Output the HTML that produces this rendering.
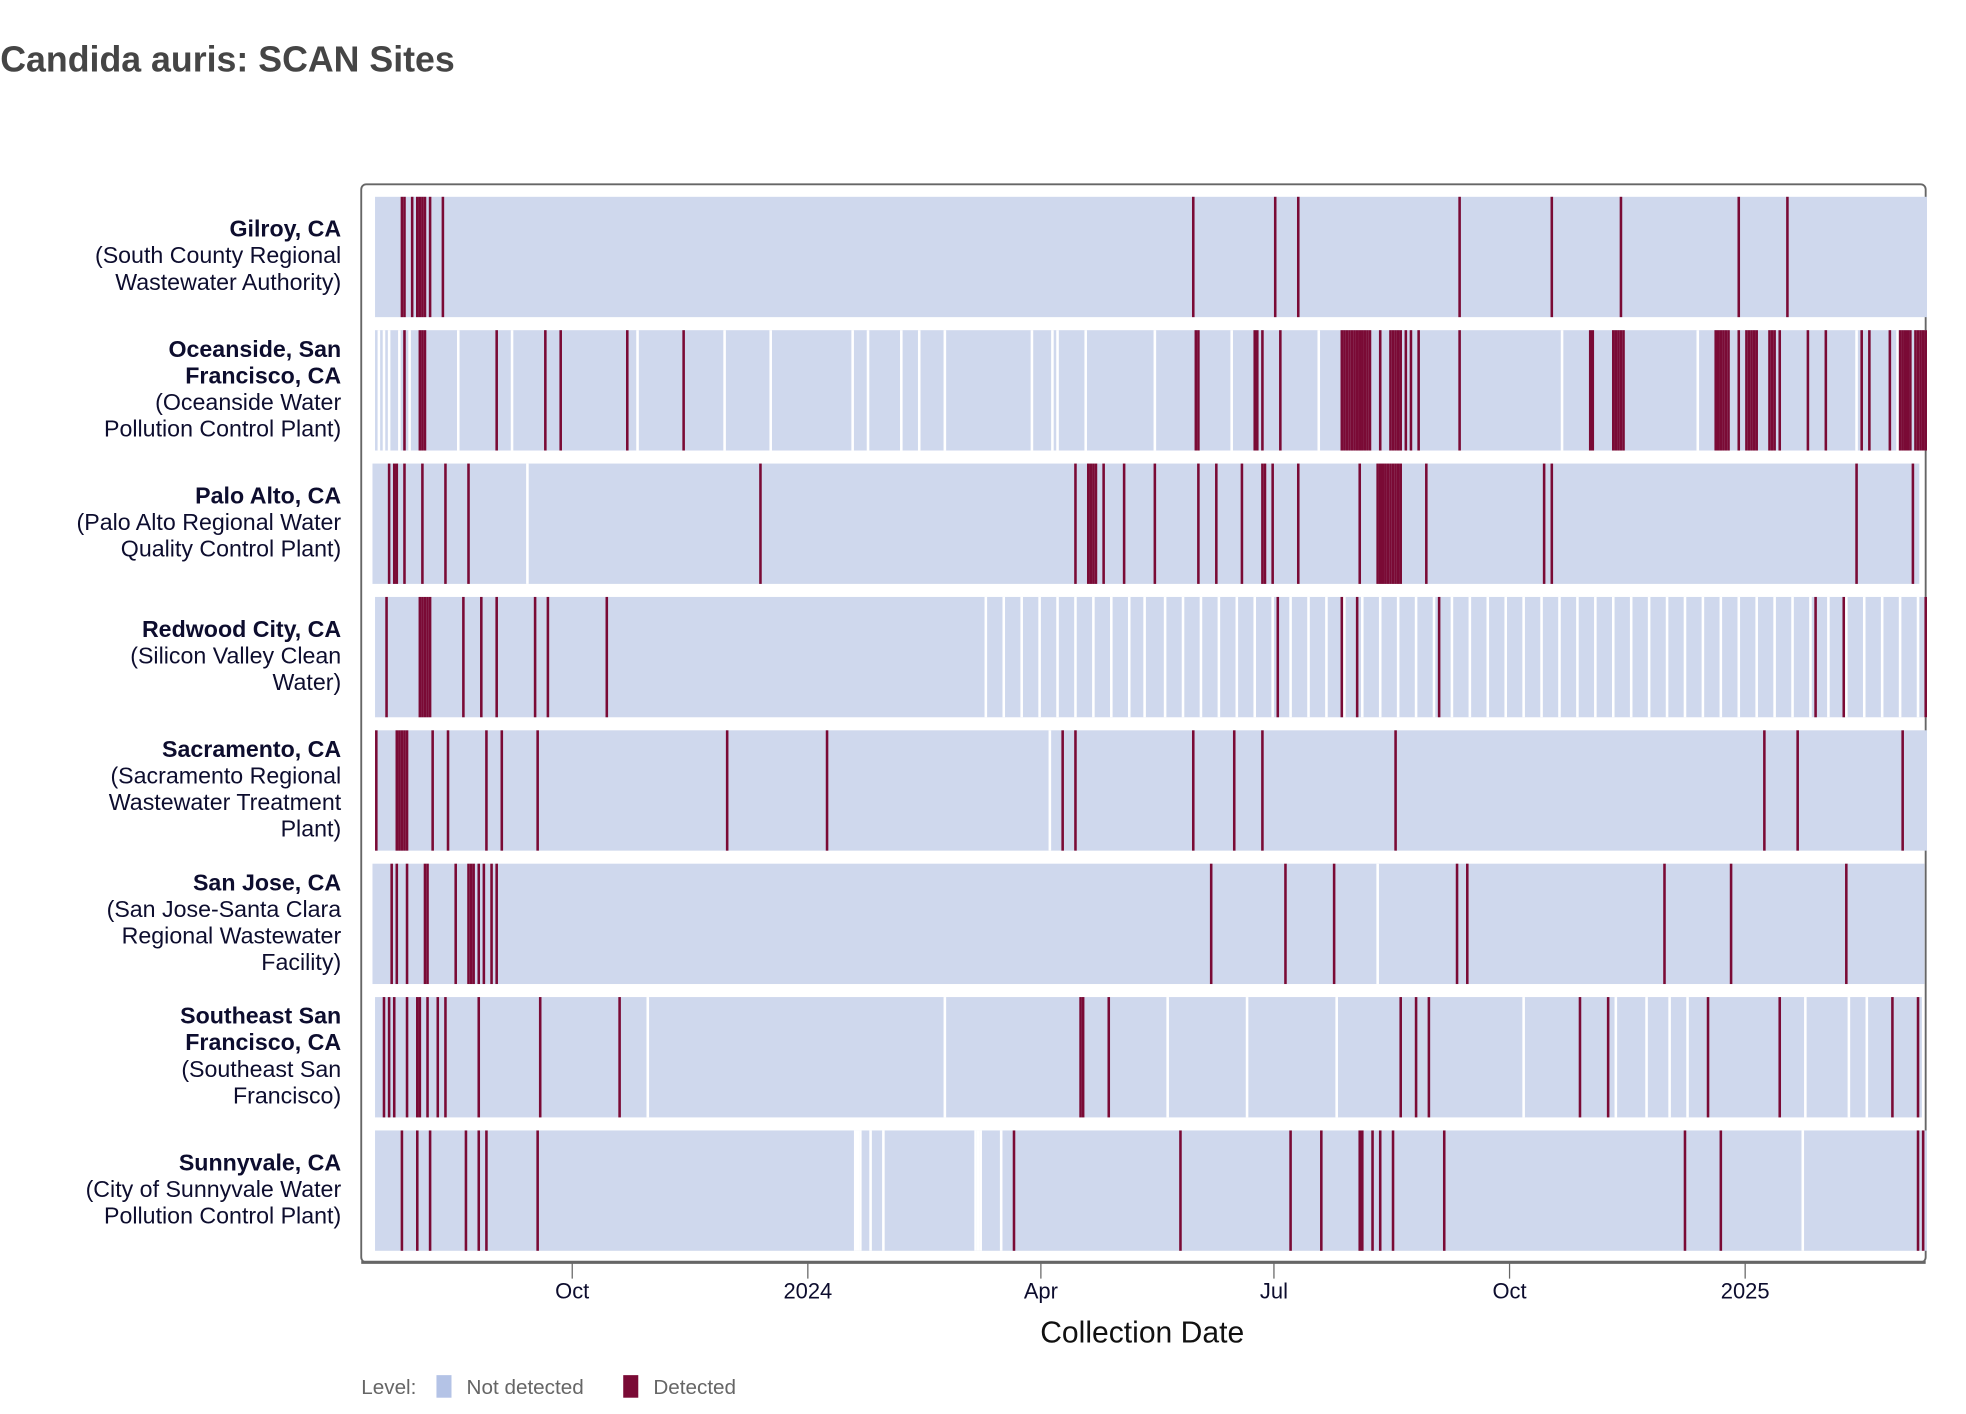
<!DOCTYPE html>
<html><head><meta charset="utf-8"><style>
html,body{margin:0;padding:0;background:#fff;width:1966px;height:1414px;overflow:hidden}
svg{display:block;font-family:"Liberation Sans",Arial,sans-serif}
</style></head><body>
<svg id="chart" width="1966" height="1414" viewBox="0 0 1568 1128" xmlns="http://www.w3.org/2000/svg">
<text x="0" y="57" font-size="28.5" font-weight="bold" fill="#454545">Candida auris: SCAN Sites</text>
<rect x="288" y="147" width="1248" height="860" rx="4" fill="none" stroke="#666" stroke-width="1.5"/>
<line x1="288" y1="1007" x2="1536" y2="1007" stroke="#666" stroke-width="2.5"/>
<g id="rows"></g>
<g id="xaxis"></g>
<text x="911" y="1071" font-size="24" text-anchor="middle" fill="#111">Collection Date</text>
<g>
<text x="288" y="1112" font-size="16.5" fill="#666">Level:</text>
<rect x="348" y="1097" width="12" height="18" fill="#b4c3e6"/>
<text x="372" y="1112" font-size="16.5" fill="#666">Not detected</text>
<rect x="497" y="1097" width="12" height="18" fill="#7a0a35"/>
<text x="521" y="1112" font-size="16.5" fill="#666">Detected</text>
</g>
</svg>
<script>
// Days counted from 2023-07-16
const siteNames = [["Gilroy, CA"],["Oceanside, San","Francisco, CA"],["Palo Alto, CA"],["Redwood City, CA"],["Sacramento, CA"],["San Jose, CA"],["Southeast San","Francisco, CA"],["Sunnyvale, CA"]];
const plantNames = [["(South County Regional","Wastewater Authority)"],["(Oceanside Water","Pollution Control Plant)"],["(Palo Alto Regional Water","Quality Control Plant)"],["(Silicon Valley Clean","Water)"],["(Sacramento Regional","Wastewater Treatment","Plant)"],["(San Jose-Santa Clara","Regional Wastewater","Facility)"],["(Southeast San","Francisco)"],["(City of Sunnyvale Water","Pollution Control Plant)"]];
const startDays = [0,0,-1,0,0,-1,0,0];
const endDays = [605,605,602,605,605,604,603,605];
const detectedGilroy = [10,11,14,16,17,18,19,21,26,319,351,360,423,459,486,532,551];
const detectedOceanside = [11,17,18,19,47,66,72,98,120,320,321,343,344,346,353,377,378,379,380,381,382,383,384,385,386,387,388,392,396,397,398,399,400,402,404,407,423,474,475,483,484,485,486,487,523,524,525,526,527,528,532,535,536,537,538,539,544,545,546,548,559,566,580,583,591,595,596,597,598,599,601,602,603,604,605];
const detectedPaloAlto = [5,7,8,11,18,27,36,150,273,278,279,280,281,284,292,304,321,328,338,346,347,350,360,384,391,392,393,394,395,396,397,398,399,400,410,456,459,578,600];
const detectedRedwood = [4,17,18,19,20,21,34,41,47,62,67,90,352,377,383,415,562,573,605];
const detectedSacramento = [0,8,9,10,11,12,22,28,43,49,63,137,176,268,273,319,335,346,398,542,555,596];
const detectedSanJose = [6,8,12,19,20,31,36,37,38,40,42,45,47,326,355,374,422,426,503,529,574];
const detectedSoutheast = [3,5,7,12,16,17,20,24,27,40,64,95,275,276,286,400,406,411,470,481,520,548,592,602];
const detectedSunnyvale = [10,16,21,35,40,43,63,249,314,357,369,384,385,389,392,397,417,511,525,602,604];
const missingGilroy = [];
const missingOceanside = [1,3,5,9,13,32,53,102,136,154,186,192,205,212,222,256,264,266,277,304,334,368,463,516,578,594];
const missingPaloAlto = [59];
const missingRedwood = [238,245,252,259,266,273,280,287,294,300,308,315,322,329,336,343,350,357,364,371,378,385,392,399,406,413,420,427,434,441,448,455,462,469,476,483,490,497,504,511,518,525,532,539,546,553,560,567,574,581,588,595,602];
const missingSacramento = [263];
const missingSanJose = [391];
const missingSoutheast = [106,222,309,340,375,448,484,496,505,512,558,575,582];
const missingSunnyvale = [187,188,189,193,198,234,235,236,244,557];
const tickLabels = ["Oct","2024","Apr","Jul","Oct","2025"];
const tickDays = [77,169,260,351,443,535];

const detectedAll = [detectedGilroy,detectedOceanside,detectedPaloAlto,detectedRedwood,detectedSacramento,detectedSanJose,detectedSoutheast,detectedSunnyvale];
const missingAll = [missingGilroy,missingOceanside,missingPaloAlto,missingRedwood,missingSacramento,missingSanJose,missingSoutheast,missingSunnyvale];

const NS = "http://www.w3.org/2000/svg";
const X0 = 299, PX_PER_DAY = 2.043;
function xScale(d){ return X0 + d*PX_PER_DAY; }
const ROW_TOP = 157, ROW_PITCH = 106.4, ROW_H = 96;
function yRow(i){ return ROW_TOP + i*ROW_PITCH; }
function mk(tag, attrs){ const e=document.createElementNS(NS,tag); for(const k in attrs) e.setAttribute(k,attrs[k]); return e; }

const rowsG = document.getElementById('rows');
for(let i=0;i<siteNames.length;i++){
  const g = mk('g',{});
  
  
  rowsG.appendChild(g);
  const y = yRow(i);
  const base = mk('rect',{x:xScale(startDays[i]),y:y,width:xScale(endDays[i]+1)-xScale(startDays[i]),height:ROW_H,fill:'#cfd8ed'});
  
  
  g.appendChild(base);
  missingAll[i].forEach(d=>{
    const r = mk('rect',{x:xScale(d),y:y,width:PX_PER_DAY,height:ROW_H,fill:'#fff'});
    
    
    g.appendChild(r);
  });
  detectedAll[i].forEach(d=>{
    const r = mk('rect',{x:xScale(d),y:y,width:PX_PER_DAY,height:ROW_H,fill:'#7a0a35'});
    
    
    g.appendChild(r);
  });
  const lines = siteNames[i].map(t=>[t,true]).concat(plantNames[i].map(t=>[t,false]));
  const cy = y + ROW_H/2;
  const first = cy - (lines.length-1)*21.2/2 + 5;
  const lab = mk('text',{x:272,'text-anchor':'end','font-size':18.5,fill:'#0d0d2e'});
  
  
  lines.forEach((l,k)=>{
    const ts = mk('tspan',{x:272,y:first+k*21.2});
    if(l[1]) ts.setAttribute('font-weight','bold');
    ts.textContent = l[0];
    lab.appendChild(ts);
  });
  rowsG.appendChild(lab);
}
const xa = document.getElementById('xaxis');
tickDays.forEach((d,i)=>{
  const x = xScale(d);
  const t = mk('line',{x1:x,x2:x,y1:1008,y2:1020,stroke:'#666','stroke-width':1});
  
  
  xa.appendChild(t);
  const l = mk('text',{x:x,y:1036,'text-anchor':'middle','font-size':17.5,fill:'#0d0d2e'});
  
  
  l.textContent = tickLabels[i];
  xa.appendChild(l);
});
</script>
</body></html>
